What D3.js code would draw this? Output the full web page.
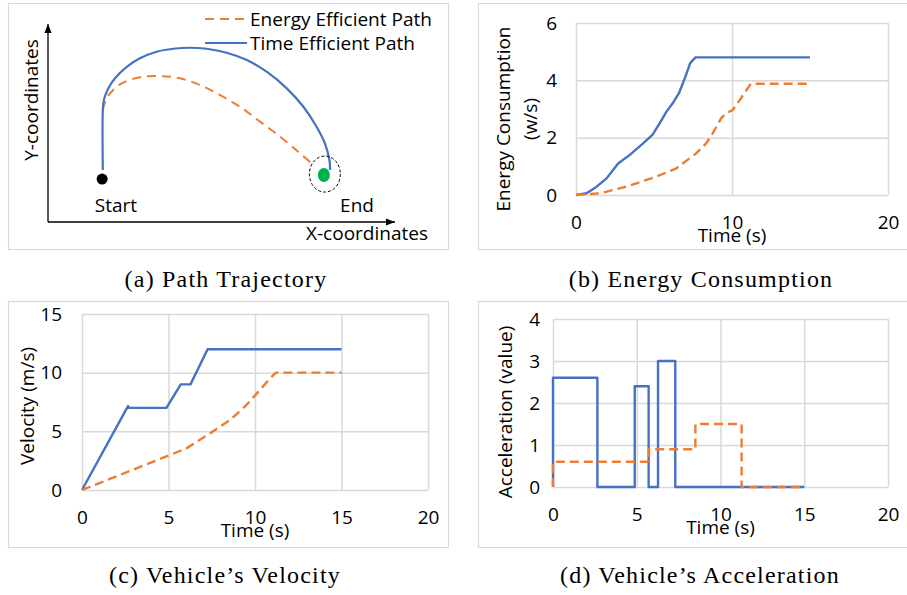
<!DOCTYPE html>
<html>
<head>
<meta charset="utf-8">
<script src="https://cdn.jsdelivr.net/npm/d3@7"></script>
<style>
  body { margin: 0; background: #fff; }
  text { font-family: "Open Sans", sans-serif; fill: #000; }
  .caption { font-family: "Liberation Serif", serif; font-size: 24px; letter-spacing: 1.2px; }
  .grid line { stroke: #d9d9d9; stroke-width: 1.5; }
  .grid path { display: none; }
  .grid text { font-size: 19px; }
</style>
</head>
<body>
<svg id="chart"></svg>
<script>
// ---- panel (a) path trajectory (diagram units 0..100) ----
const timePathX = [15.8, 15.8, 16.1, 17.4, 19.3, 22.7, 26.5, 31.3, 36.1, 40.9, 45.7, 51.5, 57.3, 63.0, 68.8, 73.6, 77.4, 79.8, 81.1, 81.3];
const timePathY = [26.3, 56.6, 61.6, 67.5, 72.6, 78.4, 82.7, 86.0, 87.5, 88.0, 87.5, 85.5, 81.8, 75.9, 67.5, 58.2, 48.1, 39.7, 31.3, 26.3];
const energyPathX = [15.8, 16.9, 18.8, 21.7, 26.5, 32.3, 38.0, 43.8, 49.6, 55.3, 61.1, 66.9, 72.1, 76.0];
const energyPathY = [56.6, 62.5, 66.7, 70.4, 73.1, 73.7, 72.6, 69.2, 64.1, 58.2, 50.7, 43.1, 35.5, 29.6];
const startPoint = [15.6, 21.7];
const endPoint = [79.5, 23.7];

// ---- panel (b) energy consumption ----
const energyTimeT = [0, 0.68, 1.32, 1.96, 2.7, 3.45, 4.3, 4.9, 5.36, 5.79, 6.2, 6.6, 7.02, 7.32, 7.66, 15];
const energyTimeV = [0, 0.06, 0.29, 0.58, 1.1, 1.4, 1.8, 2.1, 2.5, 2.9, 3.2, 3.55, 4.14, 4.6, 4.8, 4.8];
const energyEffT = [0, 1.53, 3.23, 5.15, 6.43, 7.7, 8.34, 8.76, 9.3, 9.6, 10.04, 10.57, 11.2, 15];
const energyEffV = [0, 0.06, 0.29, 0.64, 0.93, 1.45, 1.8, 2.15, 2.67, 2.85, 2.96, 3.37, 3.88, 3.88];

// ---- panel (c) velocity ----
const velTimeT = [0, 2.66, 2.72, 4.88, 5.71, 6.27, 7.26, 15];
const velTimeV = [0, 7.15, 7.0, 7.0, 9.0, 9.0, 12.0, 12.0];
const velEffT = [0, 1.22, 2.66, 5.08, 6.04, 7.39, 8.55, 9.5, 10.87, 11.2, 15];
const velEffV = [0, 0.71, 1.56, 2.98, 3.55, 4.82, 5.96, 7.23, 9.5, 10, 10];

// ---- panel (d) acceleration (step after) ----
const accTimeT = [0, 0, 2.65, 4.88, 5.71, 6.27, 7.3, 15];
const accTimeV = [0, 2.6, 0, 2.4, 0, 3.0, 0, 0];
const accEffT = [0, 0, 5.73, 8.5, 11.26, 15];
const accEffV = [0, 0.6, 0.9, 1.5, 0, 0];

const timeTicksB = [0, 10, 20];
const timeTicks = [0, 5, 10, 15, 20];

const blue = "#4472C4";
const orange = "#ED7D31";

const svg = d3.select("#chart")
    .attr("width", 907)
    .attr("height", 595);

svg.append("rect").attr("width", 907).attr("height", 595).attr("fill", "#fff");

// frames
const frames = [[8, 3, 440, 246], [478, 3, 440, 246], [8, 301, 440, 246], [478, 301, 440, 246]];
svg.selectAll(".frame")
    .data(frames)
    .enter()
    .append("rect")
    .attr("x", d => d[0] + 0.5)
    .attr("y", d => d[1] + 0.5)
    .attr("width", d => d[2])
    .attr("height", d => d[3])
    .attr("fill", "none")
    .attr("stroke", "#d9d9d9")
    .attr("stroke-width", 1.2);

const zip = (xs, ys) => xs.map((x, i) => [x, ys[i]]);

// ================= panel (a) =================
const xA = d3.scaleLinear().domain([0, 100]).range([48, 395]);
const yA = d3.scaleLinear().domain([0, 100]).range([222, 24]);

const defs = svg.append("defs");
defs.append("marker")
    .attr("id", "arrow")
    .attr("viewBox", "0 0 10 10")
    .attr("refX", 10).attr("refY", 5)
    .attr("markerWidth", 9).attr("markerHeight", 9)
    .attr("markerUnits", "userSpaceOnUse")
    .attr("orient", "auto")
    .append("path")
    .attr("d", "M0,1 L10,5 L0,9 Z")
    .attr("fill", "#000");

const gA = svg.append("g");
gA.append("line")
    .attr("x1", xA(0)).attr("y1", yA(0)).attr("x2", xA(0)).attr("y2", yA(100))
    .attr("stroke", "#000").attr("stroke-width", 1.3).attr("marker-end", "url(#arrow)");
gA.append("line")
    .attr("x1", xA(0)).attr("y1", yA(0)).attr("x2", xA(100)).attr("y2", yA(0))
    .attr("stroke", "#000").attr("stroke-width", 1.3).attr("marker-end", "url(#arrow)");

const pathLine = d3.line()
    .x(d => xA(d[0]))
    .y(d => yA(d[1]))
    .curve(d3.curveCatmullRom.alpha(0.5));

gA.append("path")
    .attr("d", pathLine(zip(energyPathX, energyPathY)))
    .attr("fill", "none").attr("stroke", orange).attr("stroke-width", 2)
    .attr("stroke-dasharray", "9,6");
gA.append("path")
    .attr("d", pathLine(zip(timePathX, timePathY)))
    .attr("fill", "none").attr("stroke", blue).attr("stroke-width", 2.2);

gA.append("circle")
    .attr("cx", xA(startPoint[0])).attr("cy", yA(startPoint[1])).attr("r", 5.5)
    .attr("fill", "#000");
gA.append("ellipse")
    .attr("cx", xA(endPoint[0]) + 1).attr("cy", yA(endPoint[1]) - 1)
    .attr("rx", 15.5).attr("ry", 18)
    .attr("fill", "none").attr("stroke", "#000").attr("stroke-width", 1)
    .attr("stroke-dasharray", "3,2");
gA.append("ellipse")
    .attr("cx", xA(endPoint[0])).attr("cy", yA(endPoint[1]))
    .attr("rx", 6).attr("ry", 7)
    .attr("fill", "#00B050");

gA.append("text").attr("x", 116).attr("y", 212).attr("text-anchor", "middle")
    .style("font-size", "19px").text("Start");
gA.append("text").attr("x", 357).attr("y", 212).attr("text-anchor", "middle")
    .style("font-size", "19px").text("End");
gA.append("text").attr("x", 367).attr("y", 240).attr("text-anchor", "middle")
    .style("font-size", "19px").text("X-coordinates");
gA.append("text")
    .attr("transform", "translate(31,100) rotate(-90)")
    .attr("text-anchor", "middle").attr("dy", "0.35em")
    .style("font-size", "19px").text("Y-coordinates");

// legend
const legendData = [
    { color: orange, dash: "9,6", label: "Energy Efficient Path", y: 19 },
    { color: blue, dash: null, label: "Time Efficient Path", y: 43 }
];
const legendItems = gA.selectAll(".legend-item")
    .data(legendData)
    .enter()
    .append("g")
    .attr("class", "legend-item");
legendItems.append("line")
    .attr("x1", 205).attr("x2", 247)
    .attr("y1", d => d.y).attr("y2", d => d.y)
    .attr("stroke", d => d.color).attr("stroke-width", 2.2)
    .attr("stroke-dasharray", d => d.dash);
legendItems.append("text")
    .attr("x", 250).attr("y", d => d.y + 6.5)
    .style("font-size", "19px")
    .text(d => d.label);

// ================= line panels =================
function drawPanel(opt) {
    const x = d3.scaleLinear().domain([0, 20]).range([opt.left, opt.right]);
    const y = d3.scaleLinear().domain([0, opt.yMax]).range([opt.bottom, opt.top]);
    const g = svg.append("g");

    g.append("g")
        .attr("class", "grid")
        .attr("transform", `translate(${opt.left},0)`)
        .call(d3.axisLeft(y).tickValues(opt.yTicks).tickFormat(d3.format("d"))
            .tickSize(-(opt.right - opt.left)).tickPadding(opt.yPad));

    g.append("g")
        .attr("class", "grid")
        .attr("transform", `translate(0,${opt.bottom})`)
        .call(d3.axisBottom(x).tickValues(opt.xTicks).tickFormat(d3.format("d"))
            .tickSize(-(opt.bottom - opt.top)).tickPadding(21));

    const line = d3.line()
        .x(d => x(d[0]))
        .y(d => y(d[1]))
        .curve(opt.curve);

    g.append("path")
        .attr("d", line(zip(opt.blueT, opt.blueV)))
        .attr("fill", "none").attr("stroke", blue).attr("stroke-width", 2.4)
        .attr("stroke-linejoin", "round");
    g.append("path")
        .attr("d", line(zip(opt.orangeT, opt.orangeV)))
        .attr("fill", "none").attr("stroke", orange).attr("stroke-width", 2.4)
        .attr("stroke-dasharray", "9,5");

    g.append("text")
        .attr("x", x(10)).attr("y", opt.bottom + 47)
        .attr("text-anchor", "middle")
        .style("font-size", "19px")
        .text("Time (s)");

    opt.yTitle.forEach((t, i) => {
        g.append("text")
            .attr("transform", `translate(${opt.yTitleX + i * 27},${opt.yTitleY}) rotate(-90)`)
            .attr("text-anchor", "middle").attr("dy", "0.35em")
            .style("font-size", "19px")
            .text(t);
    });
}

drawPanel({
    left: 576, right: 888, top: 23, bottom: 195, yMax: 6,
    yTicks: [0, 2, 4, 6], xTicks: timeTicksB, yPad: 19,
    blueT: energyTimeT, blueV: energyTimeV, orangeT: energyEffT, orangeV: energyEffV,
    curve: d3.curveLinear,
    yTitle: ["Energy Consumption", "(w/s)"], yTitleX: 503, yTitleY: 119
});

drawPanel({
    left: 82, right: 428, top: 314, bottom: 490, yMax: 15,
    yTicks: [0, 5, 10, 15], xTicks: timeTicks, yPad: 20,
    blueT: velTimeT, blueV: velTimeV, orangeT: velEffT, orangeV: velEffV,
    curve: d3.curveLinear,
    yTitle: ["Velocity (m/s)"], yTitleX: 27, yTitleY: 406
});

drawPanel({
    left: 553, right: 888, top: 319, bottom: 487, yMax: 4,
    yTicks: [0, 1, 2, 3, 4], xTicks: timeTicks, yPad: 13,
    blueT: accTimeT, blueV: accTimeV, orangeT: accEffT, orangeV: accEffV,
    curve: d3.curveStepAfter,
    yTitle: ["Acceleration (value)"], yTitleX: 505, yTitleY: 412
});

// captions
const captions = [
    { text: "(a) Path Trajectory", x: 226, y: 287 },
    { text: "(b) Energy Consumption", x: 701, y: 287 },
    { text: "(c) Vehicle\u2019s Velocity", x: 225, y: 583 },
    { text: "(d) Vehicle\u2019s Acceleration", x: 700, y: 583 }
];
svg.selectAll(".caption")
    .data(captions)
    .enter()
    .append("text")
    .attr("class", "caption")
    .attr("x", d => d.x)
    .attr("y", d => d.y)
    .attr("text-anchor", "middle")
    .text(d => d.text);
</script>
</body>
</html>
